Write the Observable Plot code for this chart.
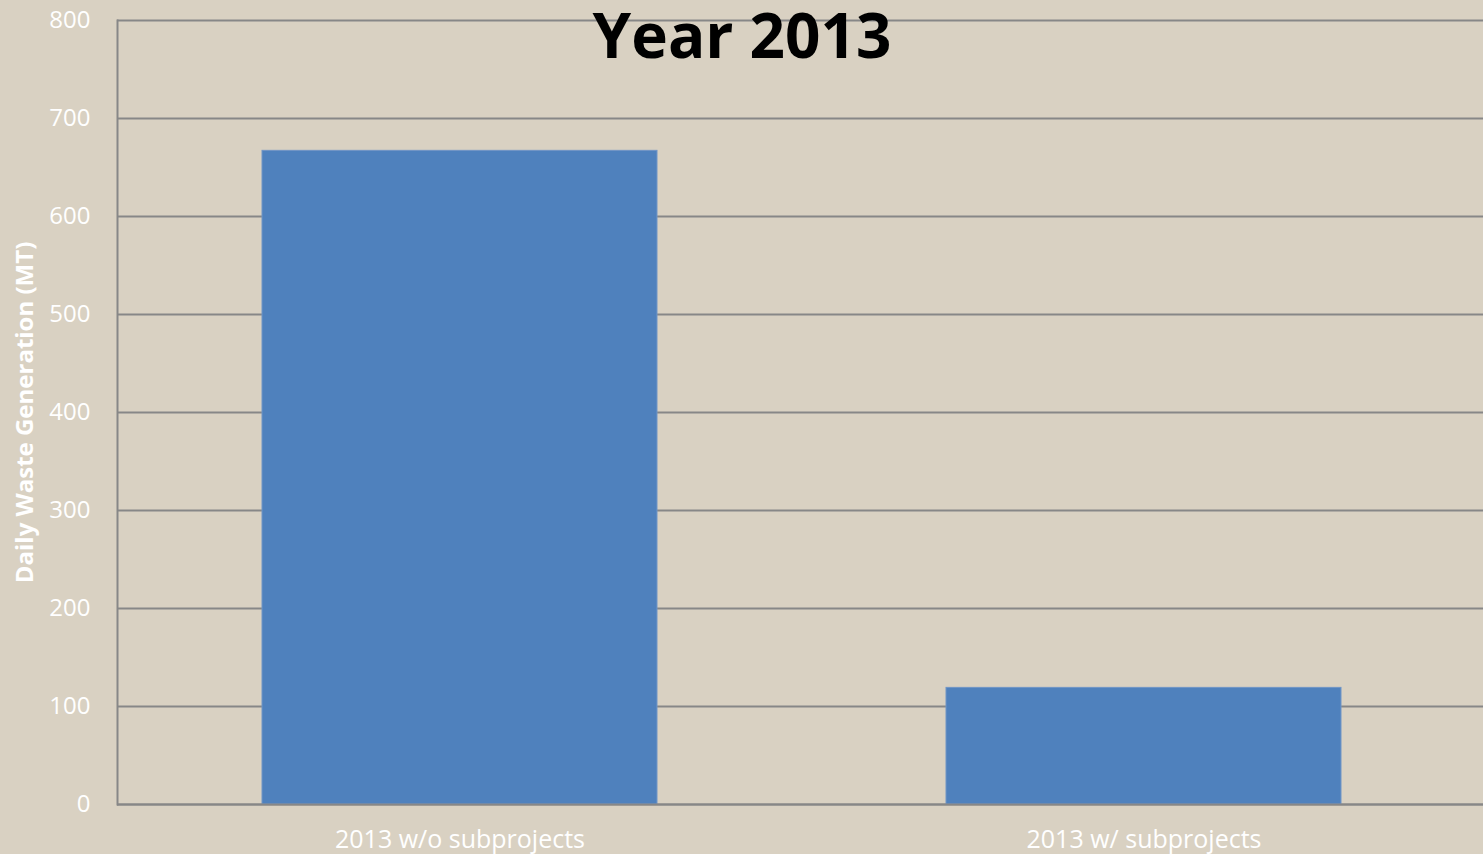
<!DOCTYPE html>
<html>
<head>
<meta charset="utf-8">
<script src="https://cdn.jsdelivr.net/npm/d3@7"></script>
<script src="https://cdn.jsdelivr.net/npm/@observablehq/plot@0.6"></script>
<style>
  html, body { margin: 0; padding: 0; background: #D9D1C2; }
  svg g[aria-label="y-axis label"] text { font-weight: 700; font-size: 24px; }
</style>
</head>
<body>
<div id="chart"></div>
<script>
const title = "Year 2013";
const categories = ["2013 w/o subprojects", "2013 w/ subprojects"];
const values = [667, 119];
const yTicks = [0, 100, 200, 300, 400, 500, 600, 700, 800];
const yLabel = "Daily Waste Generation (MT)";

const data = categories.map((c, i) => ({category: c, value: values[i]}));

const chart = Plot.plot({
  width: 1483,
  height: 854,
  marginLeft: 117,
  marginRight: -3,
  marginTop: 20,
  marginBottom: 50,
  style: {background: "#D9D1C2", fontFamily: "'Open Sans', sans-serif", color: "#ffffff", overflow: "visible"},
  x: {domain: categories, paddingInner: 0.423, paddingOuter: 0.2115, label: null},
  y: {domain: [0, 800], ticks: yTicks, label: yLabel},
  marks: [
    Plot.gridY(yTicks, {stroke: "#878787", strokeOpacity: 1, strokeWidth: 2}),
    Plot.barY(data, {x: "category", y: "value", fill: "#4F81BD", stroke: "#7095C6", strokeWidth: 1}),
    Plot.ruleY([0], {stroke: "#878787", strokeWidth: 2}),
    Plot.frame({anchor: "left", stroke: "#878787", strokeWidth: 2}),
    Plot.axisY(yTicks, {tickSize: 0, tickPadding: 27, fontSize: 24, fill: "#ffffff",
      label: yLabel, labelAnchor: "center", labelArrow: "none", labelOffset: 102}),
    Plot.axisX({tickSize: 0, tickPadding: 26, fontSize: 25, fill: "#ffffff", label: null}),
    Plot.text([title], {frameAnchor: "top", dx: -60, dy: 18, lineAnchor: "middle", textAnchor: "middle",
      fontSize: 62, fontWeight: 700, fill: "#000000"})
  ]
});
document.getElementById("chart").appendChild(chart);
</script>
</body>
</html>
